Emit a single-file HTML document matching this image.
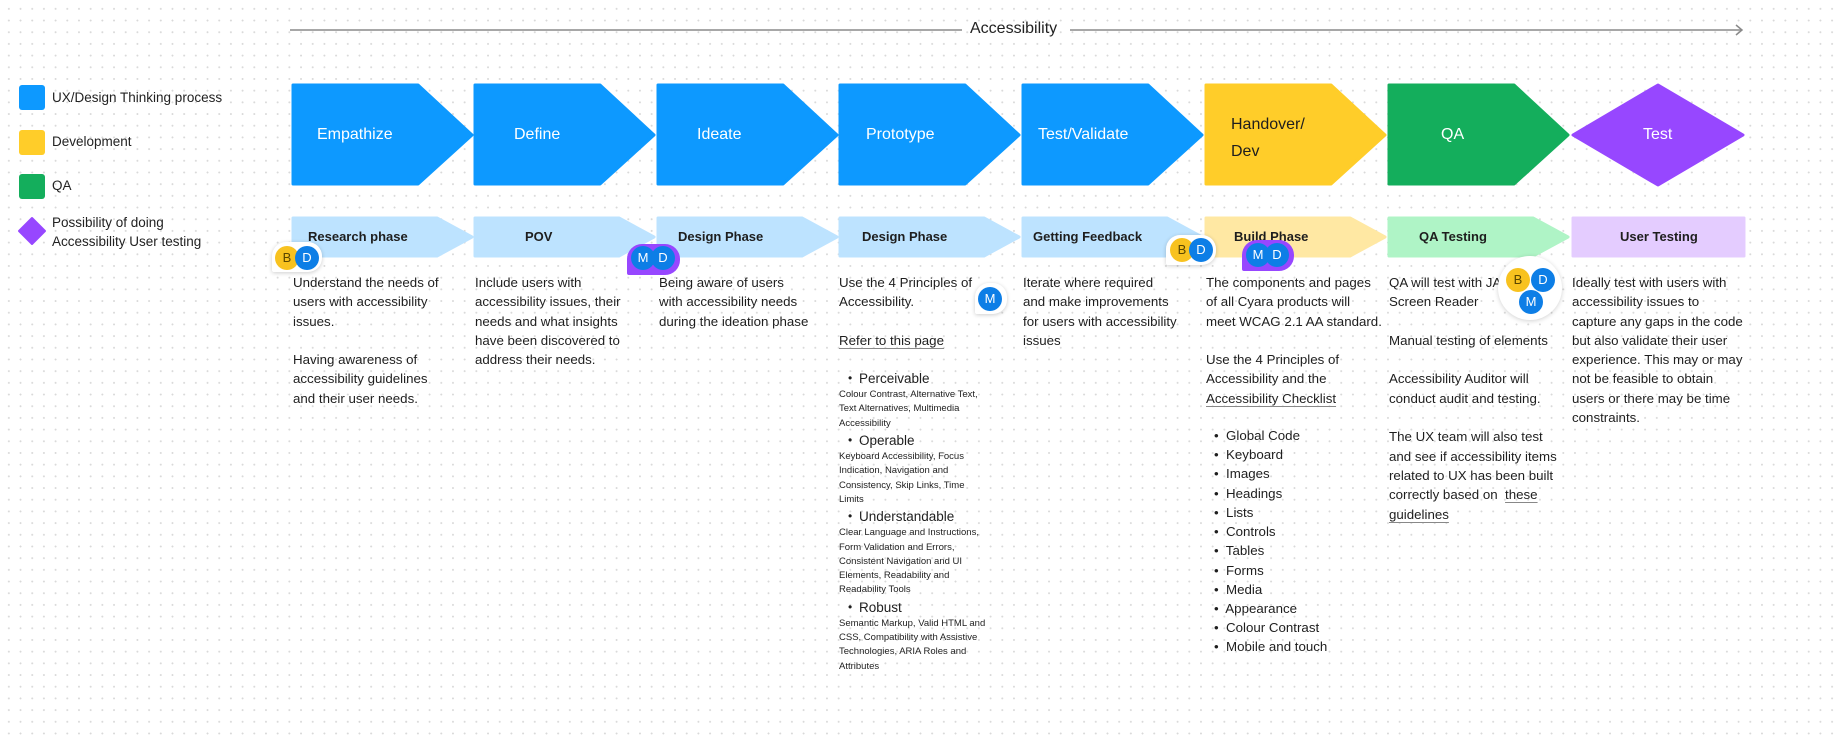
<!DOCTYPE html>
<html><head><meta charset="utf-8"><style>
*{margin:0;padding:0;box-sizing:border-box}
body{width:1839px;height:735px;overflow:hidden;background:#fff;position:relative;font-family:"Liberation Sans",sans-serif;color:#1e1e1e;
background-image:radial-gradient(circle,#d9d9d9 0.8px,transparent 1.1px);background-size:11.7px 11.7px;background-position:3px 3px}
.a{position:absolute;white-space:nowrap}
.leg{font-size:13.5px;color:#222}
.big{font-size:16px;color:#fff;line-height:20px}
.ph{font-size:13px;font-weight:bold;color:#1e1e1e;line-height:20px}
.d{position:absolute;top:273px;font-size:13.3px;line-height:19.3px;white-space:nowrap}
.u{text-decoration:underline;text-decoration-color:#888;text-underline-offset:3px}
.sm{font-size:9.5px;line-height:14.3px;display:block}
.bl{display:block;padding-left:20px;position:relative}
.bl:before{content:"•";position:absolute;left:9px;font-size:12px}
.circ{position:absolute;width:24px;height:24px;border-radius:50%;color:#fff;font-size:13px;line-height:24px;text-align:center}
.y{background:#f8c21f;color:#5a4600}
.b{background:#0d7ee6}
.card{position:absolute;background:#fff;box-shadow:0 1px 4px rgba(0,0,0,.2);border-radius:14px 14px 14px 2px}
.pur{position:absolute;background:#9747ff;border-radius:15px 15px 15px 2px}
</style></head><body>
<svg class="a" style="left:0;top:0" width="1839" height="735">
<line x1="290" y1="30" x2="962" y2="30" stroke="#8a8a8a" stroke-width="1.5"/>
<line x1="1070" y1="30" x2="1742" y2="30" stroke="#8a8a8a" stroke-width="1.5"/>
<polyline points="1736,25 1742,30 1736,35" fill="none" stroke="#8a8a8a" stroke-width="1.5"/>
<rect x="19" y="85" width="26" height="25" rx="3" fill="#0d99ff"/>
<rect x="19" y="130" width="26" height="25" rx="3" fill="#ffcd29"/>
<rect x="19" y="174" width="26" height="25" rx="3" fill="#14ae5c"/>
<polygon points="32,218 45,231 32,244 19,231" fill="#9747ff" stroke="#9747ff" stroke-width="2" stroke-linejoin="round"/>
<g stroke-linejoin="round" stroke-width="3">
<polygon points="293,85 418,85 472,135 418,184 293,184" fill="#0d99ff" stroke="#0d99ff"/>
<polygon points="475,85 600,85 654,135 600,184 475,184" fill="#0d99ff" stroke="#0d99ff"/>
<polygon points="658,85 783,85 837,135 783,184 658,184" fill="#0d99ff" stroke="#0d99ff"/>
<polygon points="840,85 965,85 1019,135 965,184 840,184" fill="#0d99ff" stroke="#0d99ff"/>
<polygon points="1023,85 1148,85 1202,135 1148,184 1023,184" fill="#0d99ff" stroke="#0d99ff"/>
<polygon points="1206,85 1331,85 1385,135 1331,184 1206,184" fill="#ffcd29" stroke="#ffcd29"/>
<polygon points="1389,85 1514,85 1568,135 1514,184 1389,184" fill="#14ae5c" stroke="#14ae5c"/>
<polygon points="1658,85 1743,135 1658,185 1573,135" fill="#9747ff" stroke="#9747ff"/>
<polygon points="293,218 437,218 472,237 437,256 293,256" fill="#bde3ff" stroke="#bde3ff"/>
<polygon points="475,218 619,218 654,237 619,256 475,256" fill="#bde3ff" stroke="#bde3ff"/>
<polygon points="658,218 802,218 837,237 802,256 658,256" fill="#bde3ff" stroke="#bde3ff"/>
<polygon points="840,218 984,218 1019,237 984,256 840,256" fill="#bde3ff" stroke="#bde3ff"/>
<polygon points="1023,218 1167,218 1202,237 1167,256 1023,256" fill="#bde3ff" stroke="#bde3ff"/>
<polygon points="1206,218 1350,218 1385,237 1350,256 1206,256" fill="#ffe8a3" stroke="#ffe8a3"/>
<polygon points="1389,218 1533,218 1568,237 1533,256 1389,256" fill="#aff4c6" stroke="#aff4c6"/>
<rect x="1573" y="218" width="171" height="38" fill="#e4ccff" stroke="#e4ccff"/>
</g>
</svg>
<div class="a" style="left:970px;top:20px;font-size:16px;color:#222">Accessibility</div>
<div class="a leg" style="left:52px;top:90px">UX/Design Thinking process</div>
<div class="a leg" style="left:52px;top:134px">Development</div>
<div class="a leg" style="left:52px;top:178px">QA</div>
<div class="a leg" style="left:52px;top:213px;line-height:19px">Possibility of doing<br>Accessibility User testing</div>

<div class="a big" style="left:317px;top:125px">Empathize</div>
<div class="a big" style="left:514px;top:125px">Define</div>
<div class="a big" style="left:697px;top:125px">Ideate</div>
<div class="a big" style="left:866px;top:125px">Prototype</div>
<div class="a big" style="left:1038px;top:125px">Test/Validate</div>
<div class="a big" style="left:1231px;top:111px;color:#1e1e1e;line-height:27px">Handover/<br>Dev</div>
<div class="a big" style="left:1441px;top:125px">QA</div>
<div class="a big" style="left:1643px;top:125px">Test</div>

<div class="a ph" style="left:308px;top:227px">Research phase</div>
<div class="a ph" style="left:525px;top:227px">POV</div>
<div class="a ph" style="left:678px;top:227px">Design Phase</div>
<div class="a ph" style="left:862px;top:227px">Design Phase</div>
<div class="a ph" style="left:1033px;top:227px">Getting Feedback</div>
<div class="a ph" style="left:1234px;top:227px">Build Phase</div>
<div class="a ph" style="left:1419px;top:227px">QA Testing</div>
<div class="a ph" style="left:1620px;top:227px">User Testing</div>

<div class="d" style="left:293px">Understand the needs of<br>users with accessibility<br>issues.<br><br>Having awareness of<br>accessibility guidelines<br>and their user needs.</div>
<div class="d" style="left:475px">Include users with<br>accessibility issues, their<br>needs and what insights<br>have been discovered to<br>address their needs.</div>
<div class="d" style="left:659px">Being aware of users<br>with accessibility needs<br>during the ideation phase</div>
<div class="d" style="left:839px">Use the 4 Principles of<br>Accessibility.<br><br><span class="u">Refer to this page</span><br><div style="height:19px"></div>
<span class="bl" style="font-size:13.5px;line-height:19px">Perceivable</span>
<span class="sm">Colour Contrast, Alternative Text,<br>Text Alternatives, Multimedia<br>Accessibility</span>
<span class="bl" style="font-size:13.5px;line-height:19px">Operable</span>
<span class="sm">Keyboard Accessibility, Focus<br>Indication, Navigation and<br>Consistency, Skip Links, Time<br>Limits</span>
<span class="bl" style="font-size:13.5px;line-height:19px">Understandable</span>
<span class="sm">Clear Language and Instructions,<br>Form Validation and Errors,<br>Consistent Navigation and UI<br>Elements, Readability and<br>Readability Tools</span>
<span class="bl" style="font-size:13.5px;line-height:19px">Robust</span>
<span class="sm">Semantic Markup, Valid HTML and<br>CSS, Compatibility with Assistive<br>Technologies, ARIA Roles and<br>Attributes</span></div>
<div class="d" style="left:1023px">Iterate where required<br>and make improvements<br>for users with accessibility<br>issues</div>
<div class="d" style="left:1206px">The components and pages<br>of all Cyara products will<br>meet WCAG 2.1 AA standard.<br><br>Use the 4 Principles of<br>Accessibility and the<br><span class="u">Accessibility Checklist</span><br><div style="height:18px"></div>
<div style="padding-left:8px;line-height:19.2px">•&nbsp; Global Code<br>•&nbsp; Keyboard<br>•&nbsp; Images<br>•&nbsp; Headings<br>•&nbsp; Lists<br>•&nbsp; Controls<br>•&nbsp; Tables<br>•&nbsp; Forms<br>•&nbsp; Media<br>•&nbsp; Appearance<br>•&nbsp; Colour Contrast<br>•&nbsp; Mobile and touch</div></div>
<div class="d" style="left:1389px">QA will test with JAWS<br>Screen Reader<br><br>Manual testing of elements<br><br>Accessibility Auditor will<br>conduct audit and testing.<br><br>The UX team will also test<br>and see if accessibility items<br>related to UX has been built<br>correctly based on &nbsp;<span class="u">these</span><br><span class="u">guidelines</span></div>
<div class="d" style="left:1572px">Ideally test with users with<br>accessibility issues to<br>capture any gaps in the code<br>but also validate their user<br>experience. This may or may<br>not be feasible to obtain<br>users or there may be time<br>constraints.</div>

<div class="card" style="left:272px;top:242px;width:50px;height:30px"></div>
<div class="circ y" style="left:275px;top:246px">B</div>
<div class="circ b" style="left:295px;top:246px">D</div>
<div class="pur" style="left:627px;top:244px;width:53px;height:31px"></div>
<div class="circ b" style="left:631px;top:246px">M</div>
<div class="circ b" style="left:651px;top:246px">D</div>
<div class="card" style="left:975px;top:283px;width:32px;height:31px"></div>
<div class="circ b" style="left:978px;top:287px">M</div>
<div class="card" style="left:1166px;top:235px;width:50px;height:30px"></div>
<div class="circ y" style="left:1170px;top:238px">B</div>
<div class="circ b" style="left:1189px;top:238px">D</div>
<div class="pur" style="left:1242px;top:240px;width:52px;height:31px"></div>
<div class="circ b" style="left:1246px;top:243px">M</div>
<div class="circ b" style="left:1265px;top:243px">D</div>
<div class="a" style="left:1498px;top:256px;width:64px;height:64px;border-radius:50%;background:#fff;box-shadow:0 1px 5px rgba(0,0,0,.18)"></div>
<div class="circ y" style="left:1506px;top:268px">B</div>
<div class="circ b" style="left:1531px;top:268px">D</div>
<div class="circ b" style="left:1519px;top:290px">M</div>
</body></html>
